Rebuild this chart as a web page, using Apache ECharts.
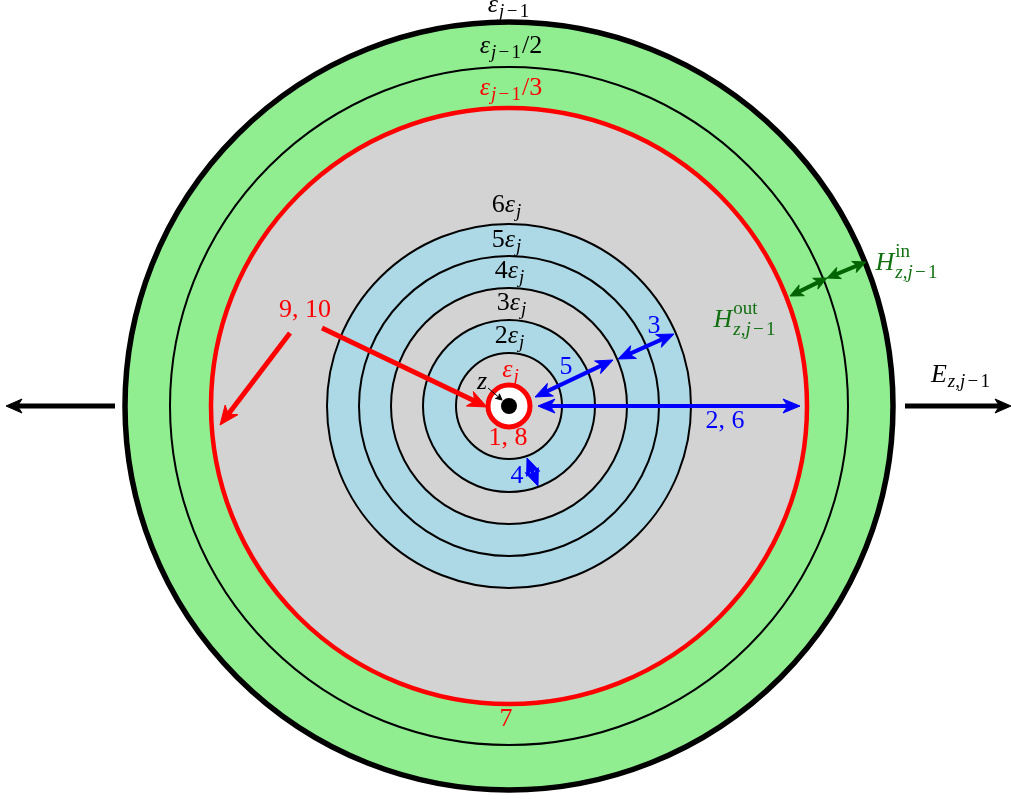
<!DOCTYPE html>
<html>
<head>
<meta charset="utf-8">
<script src="https://cdn.jsdelivr.net/npm/echarts@6/dist/echarts.min.js"></script>
<style>
html,body{margin:0;padding:0;background:#fff;}
#chart{width:1011px;height:799px;}
</style>
</head>
<body>
<div id="chart"></div>
<script>
// ---------- data (units: pixels relative to the common centre, y up) ----------
const centre = [0, 0];
const discRadii = [384, 339, 298, 182, 150, 118, 86, 53, 21, 8];

const blueArrows  = [[29, 0, 291, 0], [26, 9, 104, 46], [109, 47, 165, 72], [18, -52, 29, -80]];
const redArrows   = [[-187, 78, -22, -1], [-219, 73, -289, -19]];
const greenArrows = [[281, 110, 318, 128], [318, 128, 357, 144]];
const blackArrows = [[396, 0, 502, 0], [-394, 0, -503, 0]];
const zArrow      = [[-21, 18, -7, 6]];

const blackLabels = ['ε_{j−1}', 'ε_{j−1}/2', '6ε_{j}', '5ε_{j}', '4ε_{j}', '3ε_{j}', '2ε_{j}', 'z', 'E_{z,j−1}'];
const blackX      = [0, 2, -2, -2, 1, 3, 1, -27, 452];
const blackY      = [401, 360, 201, 166, 135, 103, 70, 24, 31];

const redLabels = ['ε_{j−1}/3', 'ε_{j}', '1, 8', '9, 10', '7'];
const redX      = [2, 2, -1, -204, -3];
const redY      = [318, 36, -32, 96, -313];

const blueLabels = ['4', '5', '3', '2, 6'];
const blueX      = [8, 57, 145, 216];
const blueY      = [-70, 39, 80, -15];

const greenLabels = ['H^{in}_{z,j−1}', 'H^{out}_{z,j−1}'];
const greenX      = [398, 236];
const greenY      = [143, 86];

// ---------- styles ----------
const GREEN = '#90ee90', GRAY = '#d3d3d3', BLUE = '#add8e6';
const discStyles = [
  {fill: GREEN, stroke: '#000', lw: 5.5},
  {fill: GREEN, stroke: '#000', lw: 2},
  {fill: GRAY, stroke: '#ff0000', lw: 4.5},
  {fill: BLUE, stroke: '#000', lw: 2},
  {fill: BLUE, stroke: '#000', lw: 2},
  {fill: GRAY, stroke: '#000', lw: 2},
  {fill: BLUE, stroke: '#000', lw: 2},
  {fill: GRAY, stroke: '#000', lw: 2},
  {fill: '#ffffff', stroke: '#ff0000', lw: 5},
  {fill: '#000000', stroke: null, lw: 0}
];

const FONT_FAMILY = '"Liberation Serif", "DejaVu Serif", serif';
const BASE = 26, SCRIPT = 19;
const mctx = document.createElement('canvas').getContext('2d');
function fontOf(size, italic) { return (italic ? 'italic ' : '') + size + 'px ' + FONT_FAMILY; }
function measure(t, f) { mctx.font = f; return mctx.measureText(t).width; }

function parseTex(s) {
  const out = []; let i = 0; let buf = '';
  while (i < s.length) {
    const c = s[i];
    if ((c === '_' || c === '^') && s[i + 1] === '{') {
      if (buf) { out.push({t: buf, m: 'base'}); buf = ''; }
      const end = s.indexOf('}', i + 2);
      out.push({t: s.slice(i + 2, end), m: c === '_' ? 'sub' : 'sup'});
      i = end + 1;
    } else { buf += c; i++; }
  }
  if (buf) out.push({t: buf, m: 'base'});
  return out;
}
// split into runs of italic / upright characters; minus signs get their own run with side bearings
function runs(str, size, isScript) {
  const wordUpright = isScript && /^[A-Za-z]{2,}$/.test(str);
  const res = [];
  for (const ch of str) {
    const kind = ch === '−' ? 'minus' : ((!wordUpright && /[A-Za-zα-ωΑ-Ω]/.test(ch)) ? 'it' : 'up');
    if (kind !== 'minus' && res.length && res[res.length - 1].k === kind) res[res.length - 1].t += ch;
    else res.push({t: ch, k: kind});
  }
  return res.map(r => {
    const f = fontOf(size, r.k === 'it');
    const pad = r.k === 'minus' ? size * 0.12 : 0;
    return {t: r.t, font: f, w: measure(r.t, f) + 2 * pad, pad};
  });
}
function layoutTex(s) {
  const toks = parseTex(s); const items = []; let x = 0; let i = 0;
  while (i < toks.length) {
    const tk = toks[i];
    if (tk.m === 'base') {
      for (const r of runs(tk.t, BASE, false)) { items.push({t: r.t, font: r.font, x: x + r.pad, dy: 0}); x += r.w; }
      i++;
    } else {
      const group = [tk];
      if (i + 1 < toks.length && toks[i + 1].m !== 'base' && toks[i + 1].m !== tk.m) group.push(toks[i + 1]);
      const both = group.length === 2; let maxW = 0;
      for (const g of group) {
        let gx = x + 1;
        const dy = g.m === 'sub' ? (both ? 10 : 7) : (both ? -11 : -10);
        for (const r of runs(g.t, SCRIPT, true)) { items.push({t: r.t, font: r.font, x: gx + r.pad, dy}); gx += r.w; }
        maxW = Math.max(maxW, gx - x);
      }
      x += maxW + 1; i += group.length;
    }
  }
  return {items, width: x};
}

function labelSeries(texts, xs, ys, color) {
  const layouts = texts.map(layoutTex);
  return {
    type: 'custom', coordinateSystem: 'cartesian2d', clip: false, z: 10,
    data: xs.map((x, k) => [x, ys[k]]),
    renderItem: function (params, api) {
      const p = api.coord([api.value(0), api.value(1)]);
      const L = layouts[params.dataIndex];
      const x0 = p[0] - L.width / 2;
      return {
        type: 'group',
        children: L.items.map(it => ({
          type: 'text', x: x0 + it.x, y: p[1] + it.dy,
          style: {text: it.t, font: it.font, fill: color,
                  textAlign: 'left', textVerticalAlign: 'middle', align: 'left', verticalAlign: 'middle'}
        }))
      };
    }
  };
}

function arrowSeries(data, color, lw, HL, HW, both) {
  return {
    type: 'custom', coordinateSystem: 'cartesian2d', clip: false, z: 5,
    data: data,
    encode: {x: [0, 2], y: [1, 3]},
    renderItem: function (params, api) {
      const p1 = api.coord([api.value(0), api.value(1)]);
      const p2 = api.coord([api.value(2), api.value(3)]);
      const dx = p2[0] - p1[0], dy = p2[1] - p1[1];
      const len = Math.hypot(dx, dy); const ux = dx / len, uy = dy / len;
      const a = both ? [p1[0] + ux * HL * 0.6, p1[1] + uy * HL * 0.6] : p1;
      const b = [p2[0] - ux * HL * 0.6, p2[1] - uy * HL * 0.6];
      function head(tip, vx, vy) {
        const bx = tip[0] - vx * HL, by = tip[1] - vy * HL; const nx = -vy, ny = vx;
        const notch = [tip[0] - vx * HL * 0.72, tip[1] - vy * HL * 0.72];
        return {type: 'polygon', shape: {points: [tip, [bx + nx * HW, by + ny * HW], notch, [bx - nx * HW, by - ny * HW]]},
                style: {fill: color, stroke: color, lineWidth: 1, lineJoin: 'round'}};
      }
      const children = [{type: 'line', shape: {x1: a[0], y1: a[1], x2: b[0], y2: b[1]}, style: {stroke: color, lineWidth: lw}}];
      children.push(head(p2, ux, uy));
      if (both) children.push(head(p1, -ux, -uy));
      return {type: 'group', children};
    }
  };
}

const discSeries = {
  type: 'custom', coordinateSystem: 'cartesian2d', clip: false, z: 1,
  data: discRadii.map(r => [centre[0], centre[1], r]),
  renderItem: function (params, api) {
    const c = api.coord([api.value(0), api.value(1)]);
    const r = api.size([api.value(2), 0])[0];
    const st = discStyles[params.dataIndex];
    return {type: 'circle', shape: {cx: c[0], cy: c[1], r: r},
            style: {fill: st.fill, stroke: st.stroke, lineWidth: st.lw}};
  }
};

const chart = echarts.init(document.getElementById('chart'), null, {renderer: 'canvas'});
chart.setOption({
  animation: false,
  backgroundColor: '#ffffff',
  grid: {left: 0, right: 0, top: 0, bottom: 0},
  xAxis: {type: 'value', min: -509, max: 502, show: false},
  yAxis: {type: 'value', min: -393, max: 406, show: false},
  series: [
    discSeries,
    arrowSeries(blueArrows, '#0000ff', 4, 17, 7, true),
    arrowSeries(redArrows, '#ff0000', 5, 19, 8, false),
    arrowSeries(greenArrows, '#006400', 4, 13, 6, true),
    arrowSeries(blackArrows, '#000000', 5, 16, 7, false),
    arrowSeries(zArrow, '#000000', 1, 6, 3, false),
    labelSeries(blackLabels, blackX, blackY, '#000000'),
    labelSeries(redLabels, redX, redY, '#ff0000'),
    labelSeries(blueLabels, blueX, blueY, '#0000ff'),
    labelSeries(greenLabels, greenX, greenY, '#107010')
  ]
});
</script>
</body>
</html>
